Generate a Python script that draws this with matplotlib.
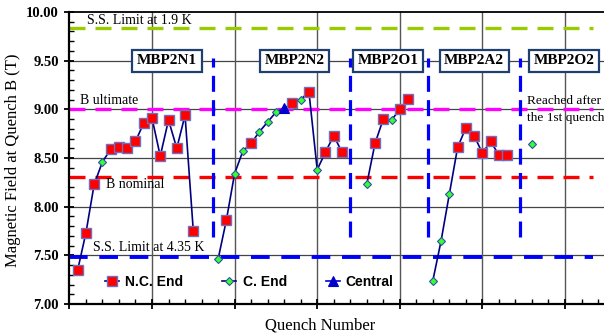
import numpy as np
import matplotlib.pyplot as plt
from matplotlib.lines import Line2D

# magnets (one block of quenches each)
magnets = ["MBP2N1", "MBP2N2", "MBP2O1", "MBP2A2", "MBP2O2"]
label_pos = [11.8, 27.3, 38.6, 49.0, 59.9]
dividers = [17.4, 34.0, 43.4, 54.5]

# quench number, field (T), location of quench start per magnet
q_n1 = [1, 2, 3, 4, 5, 6, 7, 8, 9, 10, 11, 12, 13, 14, 15]
b_n1 = [7.35, 7.73, 8.23, 8.46, 8.59, 8.61, 8.60, 8.67, 8.86, 8.91, 8.52, 8.89, 8.60, 8.94, 7.75]
k_n1 = ["NC", "NC", "NC", "C", "NC", "NC", "NC", "NC", "NC", "NC", "NC", "NC", "NC", "NC", "NC"]

q_n2 = [18, 19, 20, 21, 22, 23, 24, 25, 26, 27, 28, 29, 30, 31, 32, 33]
b_n2 = [7.46, 7.86, 8.34, 8.57, 8.65, 8.77, 8.87, 8.97, 9.01, 9.06, 9.10, 9.18, 8.38, 8.56, 8.73, 8.56]
k_n2 = ["C", "NC", "C", "C", "NC", "C", "C", "C", "CT", "NC", "C", "NC", "C", "NC", "NC", "NC"]

q_o1 = [36, 37, 38, 39, 40, 41]
b_o1 = [8.23, 8.65, 8.90, 8.89, 9.00, 9.11]
k_o1 = ["C", "NC", "NC", "C", "NC", "NC"]

q_a2 = [44, 45, 46, 47, 48, 49, 50, 51, 52, 53]
b_a2 = [7.24, 7.65, 8.13, 8.61, 8.81, 8.73, 8.55, 8.67, 8.53, 8.53]
k_a2 = ["C", "C", "C", "NC", "NC", "NC", "NC", "NC", "NC", "NC"]

q_o2 = [56]
b_o2 = [8.64]
k_o2 = ["C"]

# reference levels
ss_19 = 9.84
b_ult = 9.00
b_nom = 8.30
ss_435 = 7.48

navy = "#000080"
serif = "Liberation Serif"
sans = "Liberation Sans"

styles = {
    "NC": dict(marker="s", ms=6.5, mfc="#ff0000", mec="#7070c0", mew=1.0),
    "C": dict(marker="D", ms=4.5, mfc="#33ff33", mec="#3050a0", mew=0.8),
    "CT": dict(marker="^", ms=7, mfc="#0000cc", mec="#0000cc", mew=0.8),
}

fig = plt.figure(figsize=(6.04, 3.36), dpi=100)
# axis runs past the right edge of the picture, as in the original
ax = fig.add_axes([69.4 / 604, 32 / 336, 66 * 8.26 / 604, 292 / 336])
ax.set_xlim(0, 66)
ax.set_ylim(7.0, 10.0)

# grid
for y in [7.5, 8.0, 8.5, 9.0, 9.5]:
    ax.axhline(y, color="#444444", lw=0.9, zorder=1)
for x in range(10, 70, 10):
    ax.axvline(x, color="#555555", lw=1.0, zorder=1)

# reference lines
dash = (0, (4.8, 3.0))
ax.hlines(ss_19, 0, 63.4, colors="#99cc00", lw=2.4, linestyles=[dash], zorder=2)
ax.hlines(b_ult, 0, 63.4, colors="#ff00ff", lw=2.4, linestyles=[dash], zorder=2)
ax.hlines(b_nom, 0, 63.4, colors="#ff0000", lw=2.4, linestyles=[dash], zorder=2)
ax.hlines(ss_435, 0, 63.4, colors="#0000ff", lw=2.8, linestyles=[dash], zorder=2)

ax.text(2.1, 9.875, "S.S. Limit at 1.9 K", family=serif, fontsize=10, va="baseline")
ax.text(1.3, 9.05, "B ultimate", family=serif, fontsize=10, va="baseline")
ax.text(4.4, 8.196, "B nominal", family=serif, fontsize=10, va="baseline")
ax.text(2.8, 7.54, "S.S. Limit at 4.35 K", family=serif, fontsize=10, va="baseline")
ax.text(55.4, 9.053, "Reached after", family=serif, fontsize=9.6, va="baseline")
ax.text(55.4, 8.878, "the 1st quench", family=serif, fontsize=9.6, va="baseline")

# magnet dividers
for x in dividers:
    ax.vlines(x, 7.69, 9.53, colors="#0000ff", lw=2.3,
              linestyles=[(0, (5.0, 2.6))], zorder=2)

for name, x in zip(magnets, label_pos):
    ax.text(x, 9.5, name, family=serif, fontsize=11, fontweight="bold",
            ha="center", va="center", zorder=6,
            bbox=dict(boxstyle="square,pad=0.3", fc="white", ec="#1f3f6f", lw=1.6))

# data
groups = [(q_n1, b_n1, k_n1), (q_n2, b_n2, k_n2), (q_o1, b_o1, k_o1),
          (q_a2, b_a2, k_a2), (q_o2, b_o2, k_o2)]
for q, b, k in groups:
    q = np.array(q)
    b = np.array(b)
    k = np.array(k)
    ax.plot(q, b, color=navy, lw=1.2, zorder=4)
    for kind, st in styles.items():
        m = k == kind
        if m.any():
            ax.plot(q[m], b[m], ls="none", zorder=5, **st)

handles = [
    Line2D([], [], color=navy, lw=1.2, **styles["NC"]),
    Line2D([], [], color=navy, lw=1.2, **styles["C"]),
    Line2D([], [], color="#0000cc", lw=1.2, **styles["CT"]),
]
ax.legend(handles, ["N.C. End", "C. End", "Central"], ncol=3, frameon=False,
          loc="center left", bbox_to_anchor=(0.053, 0.075), borderpad=0,
          handlelength=1.0, handletextpad=0.45, columnspacing=2.8,
          prop=dict(family=sans, weight="bold", size=10))

# ticks and spines
ax.set_yticks(np.arange(7.0, 10.01, 0.5))
ax.set_yticklabels([f"{v:.2f}" for v in np.arange(7.0, 10.01, 0.5)],
                   family=serif, fontweight="bold", fontsize=10.5)
ax.set_yticks(np.arange(7.0, 10.01, 0.1), minor=True)
ax.set_xticks(range(0, 70, 10))
ax.set_xticklabels([])
ax.set_xticks(range(0, 66, 2), minor=True)
ax.tick_params(axis="both", which="major", direction="inout", length=7, width=1.3)
ax.tick_params(axis="both", which="minor", direction="in", length=3.3, width=1.0)
ax.tick_params(axis="y", which="major", pad=4)
for s in ["left", "bottom"]:
    ax.spines[s].set_linewidth(1.6)
ax.spines["top"].set_linewidth(1.3)

fig.text(13 / 604, 1 - 160 / 336, "Magnetic Field at Quench B (T)", family=serif,
         fontsize=12, rotation=90, ha="center", va="center")
fig.text(320 / 604, 1 - 325 / 336, "Quench Number", family=serif, fontsize=12,
         ha="center", va="center")

fig.savefig("out.png", dpi=100)
